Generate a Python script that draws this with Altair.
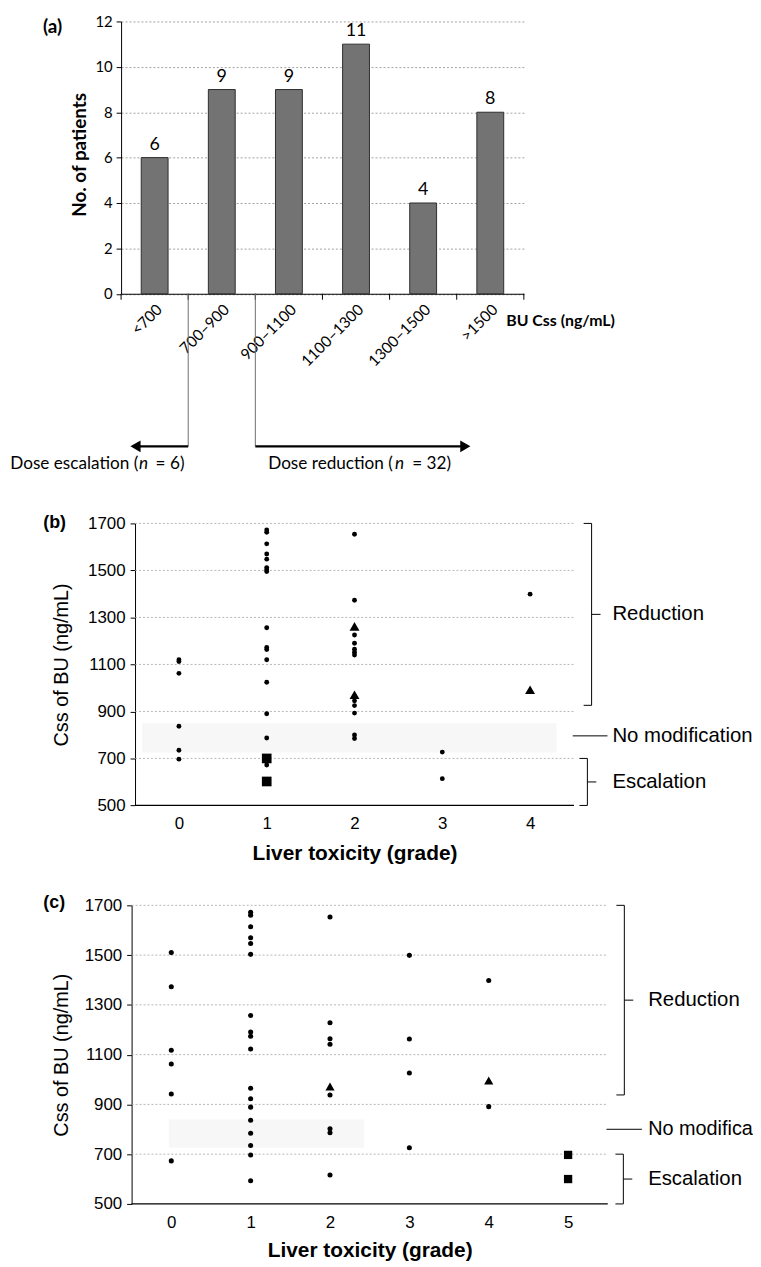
import altair as alt
import pandas as pd

# ---------------- data ----------------
# panel (a): distribution of BU Css
a_ranges = ["<700", "700–900", "900–1100", "1100–1300", "1300–1500", ">1500"]
a_counts = [6, 9, 9, 11, 4, 8]

# panel (b): Css of BU vs liver toxicity grade
b_dot_grade = [0, 0, 0, 0, 0, 0,
               1, 1, 1, 1, 1, 1, 1, 1, 1, 1, 1, 1, 1, 1, 1, 1,
               2, 2, 2, 2, 2, 2, 2, 2, 2, 2, 2, 2,
               3, 3,
               4]
b_dot_css = [1120, 1112, 1062, 837, 735, 697,
             1672, 1662, 1613, 1570, 1548, 1512, 1503, 1495, 1256, 1172, 1163, 1120, 1024, 890, 787, 672,
             1654, 1373, 1225, 1190, 1165, 1152, 1140, 945, 925, 893, 800, 785,
             727, 614,
             1399]
b_tri_grade = [2, 2, 4]
b_tri_css = [1262, 971, 992]
b_sq_grade = [1, 1]
b_sq_css = [700, 602]

# panel (c)
c_dot_grade = [0, 0, 0, 0, 0, 0,
               1, 1, 1, 1, 1, 1, 1, 1, 1, 1, 1, 1, 1, 1, 1, 1, 1, 1,
               2, 2, 2, 2, 2, 2, 2, 2,
               3, 3, 3, 3,
               4, 4]
c_dot_css = [1510, 1373, 1118, 1062, 942, 673,
             1672, 1660, 1614, 1570, 1547, 1503, 1257, 1191, 1174, 1123, 965, 923, 889, 836, 784, 735, 697, 593,
             1653, 1228, 1164, 1142, 938, 802, 786, 616,
             1499, 1163, 1026, 726,
             1398, 891]
c_tri_grade = [2, 4]
c_tri_css = [972, 996]
c_sq_grade = [5, 5]
c_sq_css = [697, 600]

css_ticks = [500, 700, 900, 1100, 1300, 1500, 1700]
css_grid = [700, 900, 1100, 1300, 1500, 1700]

# annotation ranges (Css values)
b_reduction = [1700, 926]
b_escalation = [700, 500]
b_nomod = 796
b_band = [-0.42, 4.3, 725, 850]
c_reduction = [1700, 938]
c_escalation = [700, 500]
c_nomod = 800
c_band = [-0.03, 2.43, 726, 839]

FONT_A = "Lato"
FONT_BC = "Liberation Sans"
ONE = pd.DataFrame({"k": [0]})


def txt(text, x, y, font, size, weight="normal", align="left", style="normal"):
    return alt.Chart(ONE).mark_text(
        text=text, font=font, fontSize=size, fontWeight=weight, align=align,
        baseline="middle", color="black", fontStyle=style
    ).encode(x=alt.value(x), y=alt.value(y))


# ---------------- panel (a) ----------------
A_W, A_H = 406, 274.5
half = A_W / len(a_ranges) / 2
arrow_y = 428.3
text_y = 446

xA = alt.X("range:N", sort=a_ranges,
           scale=alt.Scale(paddingInner=0.6, paddingOuter=0.3),
           axis=alt.Axis(title=None, labelAngle=-45, ticks=False, labelPadding=8,
                         labelFont=FONT_A, labelFontSize=15.5, labelColor="black",
                         domainColor="black", domainWidth=1.2))
yA = alt.Y("n:Q", scale=alt.Scale(domain=[0, 12], nice=False),
           axis=alt.Axis(values=[0, 2, 4, 6, 8, 10, 12], tickSize=5, tickColor="black",
                         labelPadding=4, labelFont=FONT_A, labelFontSize=15, labelColor="black",
                         domainColor="black", grid=True, gridColor="#8a8a8a", gridDash=[2, 2],
                         gridWidth=0.8, title="No. of patients", titleFont=FONT_A,
                         titleFontSize=19, titleFontWeight="bold", titleColor="black",
                         titleAngle=-90, titleX=-41.7, titleY=134, titleAlign="center",
                         titleBaseline="middle"))

df_a = pd.DataFrame({"range": a_ranges, "n": a_counts})
bars = alt.Chart(df_a).mark_bar(color="#737373", stroke="#2e2e2e", strokeWidth=1).encode(x=xA, y=yA)
bar_labels = alt.Chart(df_a).mark_text(font=FONT_A, fontSize=18, baseline="bottom", dy=-4,
                                       color="black").encode(x=xA, y=yA, text="n:Q")
cat_ticks = alt.Chart(df_a).mark_rule(xOffset=-half, color="black").encode(
    x=xA, y=alt.value(A_H), y2=alt.value(A_H + 6))
last_tick = alt.Chart(pd.DataFrame({"range": [a_ranges[-1]]})).mark_rule(
    xOffset=half, color="black").encode(x=xA, y=alt.value(A_H), y2=alt.value(A_H + 6))
split_lines = alt.Chart(pd.DataFrame({"range": [a_ranges[1], a_ranges[2]]})).mark_rule(
    xOffset=-half, color="#6e6e6e", strokeWidth=1).encode(
    x=xA, y=alt.value(A_H), y2=alt.value(arrow_y))
arrow_left = alt.Chart(ONE).mark_rule(color="black", strokeWidth=2.2).encode(
    x=alt.value(2 * half), x2=alt.value(16), y=alt.value(arrow_y))
arrow_right = alt.Chart(ONE).mark_rule(color="black", strokeWidth=2.2).encode(
    x=alt.value(4 * half), x2=alt.value(346), y=alt.value(arrow_y))
head_left = alt.Chart(ONE).mark_point(shape="triangle-left", filled=True, color="black",
                                      size=140, opacity=1).encode(
    x=alt.value(14.5), y=alt.value(arrow_y))
head_right = alt.Chart(ONE).mark_point(shape="triangle-right", filled=True, color="black",
                                       size=140, opacity=1).encode(
    x=alt.value(347), y=alt.value(arrow_y))

panel_a = alt.layer(
    bars, bar_labels, cat_ticks, last_tick, split_lines,
    arrow_left, arrow_right, head_left, head_right,
    txt("(a)", -78.7, 5.8, FONT_A, 19, "bold"),
    txt("BU Css (ng/mL)", 388.3, 302, FONT_A, 16, "bold"),
    txt("Dose escalation (", -111.7, text_y, FONT_A, 17.3),
    txt("n", 22.6, text_y, FONT_A, 17.3, align="center", style="italic"),
    txt("= 6)", 34.8, text_y, FONT_A, 17.3),
    txt("Dose reduction (", 148.3, text_y, FONT_A, 17.3),
    txt("n", 280.8, text_y, FONT_A, 17.3, align="center", style="italic"),
    txt("= 32)", 293.5, text_y, FONT_A, 17.3),
).properties(width=A_W, height=A_H)


# ---------------- panels (b) and (c) ----------------
def scatter_panel(tag, tag_xy, dg, dv, tg, tv, sg, sv, grades, xdom, shift, W, H, band,
                  reduction, escalation, nomod, geo):
    full_w = shift + W
    xs = alt.Scale(domain=xdom, range=[shift, full_w], nice=False, zero=False)
    ys = alt.Scale(domain=[500, 1700], nice=False, zero=False)
    X = alt.X("grade:Q", scale=xs,
              axis=alt.Axis(values=grades, format="d", ticks=False, grid=False, domain=False,
                            labelPadding=geo["lp"], labelFont=FONT_BC, labelFontSize=17,
                            labelColor="black",
                            title="Liver toxicity (grade)", titleFont=FONT_BC,
                            titleFontSize=21, titleFontWeight="bold", titleColor="black",
                            titleX=shift + W / 2, titleY=geo["xty"], titleAlign="center",
                            titleBaseline="middle"))
    Y = alt.Y("css:Q", scale=ys,
              axis=alt.Axis(values=css_ticks, format="d", offset=-shift, tickSize=5,
                            tickColor="black", labelPadding=5,
                            labelFont=FONT_BC, labelFontSize=17, labelColor="black",
                            domainColor="black", grid=False, title="Css of BU (ng/mL)",
                            titleFont=FONT_BC, titleFontSize=20, titleFontWeight="normal",
                            titleColor="black", titleAngle=-90, titleX=geo["ytx"],
                            titleY=H / 2, titleAlign="center", titleBaseline="middle"))

    grid = alt.Chart(pd.DataFrame({"css": css_grid})).mark_rule(
        color="#a3a3a3", strokeDash=[2, 2], strokeWidth=0.8).encode(
        x=alt.value(shift), x2=alt.value(full_w), y=Y)
    base_line = alt.Chart(pd.DataFrame({"css": [500]})).mark_rule(
        color="black", strokeWidth=1.2).encode(x=alt.value(shift), x2=alt.value(full_w), y=Y)
    band_df = pd.DataFrame({"grade": [band[0]], "grade2": [band[1]],
                            "css": [band[2]], "css2": [band[3]]})
    band_layer = alt.Chart(band_df).mark_rect(color="#f1f1f1", opacity=0.6).encode(
        x=X, x2="grade2", y=Y, y2="css2")
    dots = alt.Chart(pd.DataFrame({"grade": dg, "css": dv})).mark_circle(
        color="black", size=geo["dot"], opacity=1).encode(x=X, y=Y)
    tris = alt.Chart(pd.DataFrame({"grade": tg, "css": tv})).mark_point(
        shape="triangle-up", filled=True, color="black", size=geo["tri"], opacity=1).encode(x=X, y=Y)
    sqs = alt.Chart(pd.DataFrame({"grade": sg, "css": sv})).mark_point(
        shape="square", filled=True, color="black", size=geo["sq"], opacity=1).encode(x=X, y=Y)

    layers = [band_layer, grid, base_line, dots, tris, sqs]
    bx, tx = geo["bx"], geo["tx"]
    for (top, bot), label, bxx in ((reduction, "Reduction", bx[0]), (escalation, "Escalation", bx[1])):
        mid = (top + bot) / 2
        layers.append(alt.Chart(pd.DataFrame({"css": [top], "css2": [bot]})).mark_rule(
            color="black", strokeWidth=1).encode(x=alt.value(bxx), y=Y, y2="css2"))
        layers.append(alt.Chart(pd.DataFrame({"css": [top, bot]})).mark_rule(
            color="black", strokeWidth=1).encode(x=alt.value(bxx - 8), x2=alt.value(bxx), y=Y))
        layers.append(alt.Chart(pd.DataFrame({"css": [mid]})).mark_rule(
            color="black", strokeWidth=1).encode(x=alt.value(bxx), x2=alt.value(bxx + 9), y=Y))
        layers.append(alt.Chart(pd.DataFrame({"css": [mid], "label": [label]})).mark_text(
            font=FONT_BC, fontSize=20.5, align="left", baseline="middle", color="black").encode(
            x=alt.value(tx), y=Y, text="label:N"))
    layers.append(alt.Chart(pd.DataFrame({"css": [nomod]})).mark_rule(
        color="black", strokeWidth=1).encode(x=alt.value(geo["nm"][0]), x2=alt.value(geo["nm"][1]), y=Y))
    layers.append(alt.Chart(pd.DataFrame({"css": [nomod], "label": ["No modification"]})).mark_text(
        font=FONT_BC, fontSize=geo["nmfs"], align="left", baseline="middle", color="black",
        limit=geo["limit"], ellipsis="\u200b").encode(x=alt.value(tx), y=Y, text="label:N"))
    layers.append(txt(tag, tag_xy[0], tag_xy[1], FONT_BC, 18, "bold"))
    return alt.layer(*layers).properties(width=full_w, height=H)


B_SHIFT, B_W, B_H = 14.05, 442.5, 284.3
C_SHIFT, C_W, C_H = 10.6, 480, 301

panel_b = scatter_panel(
    "(b)", (-78.45, 0), b_dot_grade, b_dot_css, b_tri_grade, b_tri_css, b_sq_grade, b_sq_css,
    [0, 1, 2, 3, 4], [-0.5, 4.5], B_SHIFT, B_W, B_H, b_band, b_reduction, b_escalation, b_nomod,
    dict(lp=10, xty=49, ytx=-73.75, dot=24, tri=100, sq=95,
         bx=(474.3, 470.05), tx=495.3, nm=(455.3, 490.3), limit=150, nmfs=20.5))

panel_c = scatter_panel(
    "(c)", (-78.4, -2.4), c_dot_grade, c_dot_css, c_tri_grade, c_tri_css, c_sq_grade, c_sq_css,
    [0, 1, 2, 3, 4, 5], [-0.5, 5.5], C_SHIFT, C_W, C_H, c_band, c_reduction, c_escalation, c_nomod,
    dict(lp=11, xty=47, ytx=-70.3, dot=26, tri=85, sq=70,
         bx=(507.3, 506.3), tx=531.3, nm=(489.3, 525.0), limit=107, nmfs=20))


def spacer(h):
    return alt.Chart(ONE).mark_point(opacity=0).encode(
        x=alt.value(0), y=alt.value(0)).properties(width=1, height=h)


chart = alt.vconcat(
    panel_a, spacer(230.2), panel_b, spacer(99.7), panel_c,
    spacing=0, bounds="flush"
).properties(
    padding={"left": 2, "top": 1.5, "right": 0, "bottom": 0}
).configure_view(stroke=None)

chart.save("out.html", embed_options={"renderer": "svg", "actions": False})
